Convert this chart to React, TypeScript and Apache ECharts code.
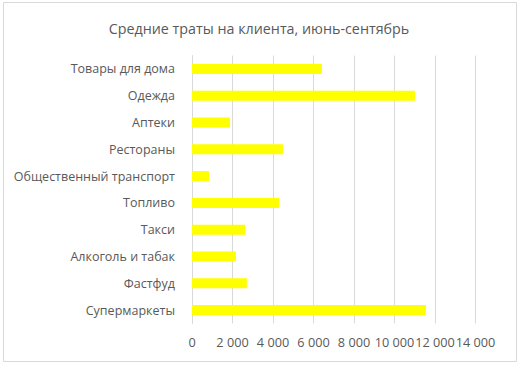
import React, { useEffect, useRef } from "react";
import * as echarts from "echarts";

const categories = [
  "Супермаркеты",
  "Фастфуд",
  "Алкоголь и табак",
  "Такси",
  "Топливо",
  "Общественный транспорт",
  "Рестораны",
  "Аптеки",
  "Одежда",
  "Товары для дома",
];
const values = [11550, 2710, 2170, 2630, 4300, 840, 4490, 1880, 11010, 6420];
const xTicks = { min: 0, max: 14000, interval: 2000 };
const title = "Средние траты на клиента, июнь-сентябрь";

const fmt = (v: number) =>
  String(v).replace(/\B(?=(\d{3})+(?!\d))/g, " ");

export default function App() {
  const ref = useRef<HTMLDivElement>(null);
  useEffect(() => {
    if (!ref.current) return;
    const chart = echarts.init(ref.current, null, { renderer: "svg" });
    const font = "'Open Sans', 'Noto Sans', sans-serif";
    chart.setOption({
      animation: false,
      backgroundColor: "#ffffff",
      title: {
        text: title,
        left: "center",
        top: 16,
        textStyle: { color: "#595959", fontSize: 14.3, fontWeight: "normal", fontFamily: font },
      },
      graphic: [
        {
          type: "rect",
          shape: { x: 3.5, y: 2.5, width: 513, height: 359 },
          style: { fill: "none", stroke: "#d9d9d9", lineWidth: 1 },
          silent: true,
        },
      ],
      grid: { left: 192, right: 42.5, top: 55.6, bottom: 42.6, containLabel: false },
      xAxis: {
        type: "value",
        min: xTicks.min,
        max: xTicks.max,
        interval: xTicks.interval,
        axisLine: { show: false },
        axisTick: { show: false },
        splitLine: { show: true, lineStyle: { color: "#d9d9d9", width: 1 } },
        axisLabel: {
          color: "#595959",
          fontSize: 12.7,
          fontFamily: font,
          margin: 12,
          hideOverlap: false,
          showMinLabel: true,
          showMaxLabel: true,
          formatter: (v: number) => fmt(v),
        },
      },
      yAxis: {
        type: "category",
        data: categories,
        axisLine: { show: true, lineStyle: { color: "#d9d9d9" } },
        axisTick: { show: false },
        axisLabel: { color: "#595959", fontSize: 12.5, fontFamily: font, margin: 17 },
      },
      series: [
        {
          type: "bar",
          data: values,
          barWidth: 10,
          itemStyle: { color: "#ffff00" },
        },
      ],
    });
    return () => chart.dispose();
  }, []);
  return (
    <div
      ref={ref}
      style={{ position: "fixed", left: 0, top: 0, width: 518, height: 366 }}
    />
  );
}
